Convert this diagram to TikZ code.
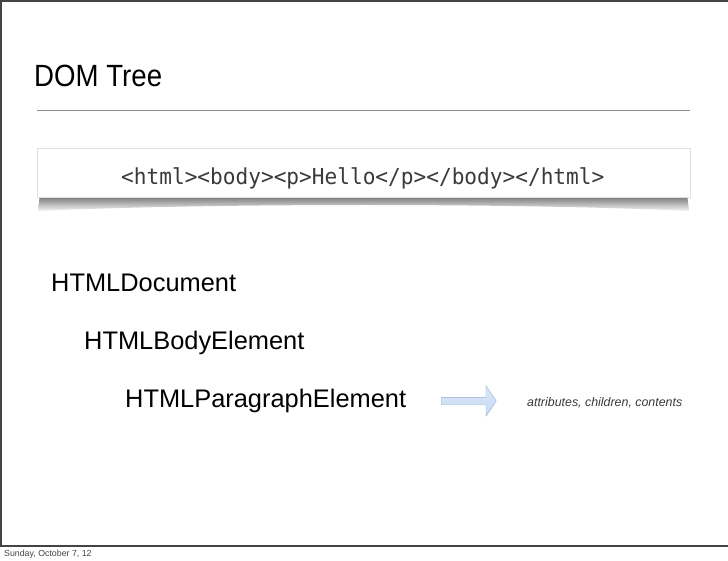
\documentclass[tikz,border=0pt]{standalone}
\usepackage{fontspec}
\setmainfont{Liberation Sans}
\setmonofont[FakeStretch=0.96]{DejaVu Sans Mono}
\newfontfamily\titlefont[FakeStretch=0.9]{Liberation Sans}
\usepackage{tikz}
\usetikzlibrary{shapes.arrows}
\usetikzlibrary{positioning}
\definecolor{framegray}{HTML}{444444}
\definecolor{rulegray}{HTML}{8C8C8C}
\definecolor{codegray}{HTML}{3A3A3A}
\definecolor{arrowfill}{HTML}{C6D9F3}
\definecolor{arrowdraw}{HTML}{90AEDA}
\tikzset{
    titletext/.style = {anchor=base west, inner sep=0pt, font=\titlefont\fontsize{30.7}{34}\selectfont},
    codetext/.style = {anchor=base west, inner sep=0pt, text=codegray, font=\ttfamily\fontsize{22}{24}\selectfont},
    treenode/.style = {anchor=base west, inner sep=0pt, font=\fontsize{25.4}{28}\selectfont},
    notetext/.style = {anchor=base west, inner sep=0pt, text=codegray, font=\itshape\fontsize{12.4}{14}\selectfont},
    foottext/.style = {anchor=base west, inner sep=0pt, text=framegray, font=\fontsize{8.8}{10}\selectfont},
    blockarrow/.style = {single arrow, draw=arrowdraw, top color=arrowfill!60, bottom color=arrowfill, 
        inner sep=0pt, minimum height=55pt, minimum width=30pt, inner ysep=3.5pt,
        single arrow head extend=11.5pt, single arrow tip angle=112},
    codebox/.style = {fill=white, draw=black!12},
}
\begin{document}
\begin{tikzpicture}[x=1pt,y=-1pt]
\useasboundingbox (0,0) rectangle (728,561);
%
% slide frame
\draw[line width=2pt, framegray] (730,1) -- (1,1) -- (1,545.5) -- (730,545.5);
%
\node[titletext] at (34,87) (title) {DOM Tree};
\draw[rulegray, line width=1.1pt] (37,110.5) -- (690,110.5);
%
% curled shadow under the code box
\shade[top color=black!65, bottom color=black!4] (40,193) -- (687,193) -- (689,211)
    .. controls (520,203) and (210,203) .. (38,211) -- cycle;
\path[codebox] (37,148) rectangle (690,197);
\node[codetext] at (121,184.5) (code) {<html><body><p>Hello</p></body></html>};
%
\node[treenode] at (51,291) (doc) {HTMLDocument};
\node[treenode] at (84,349) (body) {HTMLBodyElement};
\node[treenode] at (125,407) (para) {HTMLParagraphElement};
%
\node[blockarrow] at (467.5,401) (arr) {};
\node[notetext] at (527,406) (attrs) {attributes, children, contents};
%
\node[foottext] at (4,556) (date) {Sunday, October 7, 12};

\end{tikzpicture}
\end{document}
